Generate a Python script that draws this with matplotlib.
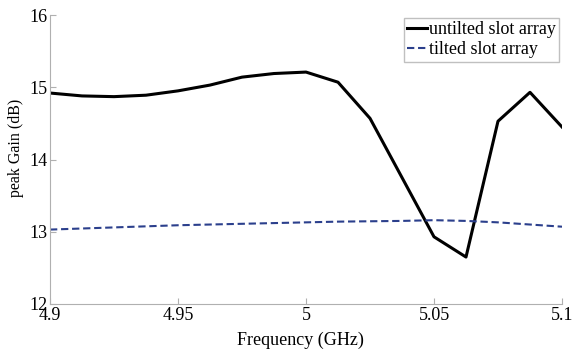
import matplotlib
matplotlib.use("Agg")
import matplotlib.pyplot as plt
import numpy as np

freq = [4.9, 4.9125, 4.925, 4.9375, 4.95, 4.9625, 4.975, 4.9875, 5.0,
        5.0125, 5.025, 5.0375, 5.05, 5.0625, 5.075, 5.0875, 5.1]
untilted = [14.92, 14.88, 14.87, 14.89, 14.95, 15.03, 15.14, 15.19, 15.21,
            15.07, 14.57, 13.75, 12.93, 12.65, 14.53, 14.93, 14.45]
tilted = [13.03, 13.045, 13.06, 13.075, 13.09, 13.10, 13.11, 13.12, 13.13,
          13.14, 13.145, 13.15, 13.16, 13.15, 13.13, 13.10, 13.07]
xticks = [4.9, 4.95, 5.0, 5.05, 5.1]
xticklabels = ["4.9", "4.95", "5", "5.05", "5.1"]
yticks = [12, 13, 14, 15, 16]

plt.rcParams['font.family'] = ['Liberation Serif', 'DejaVu Serif']
fig = plt.figure(figsize=(5.75, 3.5), dpi=100)
ax = fig.add_axes([50/575, 1-304/350, 512/575, 289/350])
ax.plot(freq, untilted, color='black', lw=2.2, label='untilted slot array')
ax.plot(freq, tilted, color='#2b3f8c', lw=1.5, ls=(0, (3.5, 1.8)), label='tilted slot array')
ax.set_xlim(4.9, 5.1)
ax.set_ylim(12, 16)
ax.set_xticks(xticks)
ax.set_xticklabels(xticklabels)
ax.set_yticks(yticks)
for s in ['top', 'right']:
    ax.spines[s].set_visible(False)
for s in ['left', 'bottom']:
    ax.spines[s].set_color('#b0b0b0')
ax.tick_params(direction='in', color='#b0b0b0', labelsize=13, length=4, pad=2)
ax.set_xlabel('Frequency (GHz)', fontsize=13)
ax.xaxis.set_label_coords(0.49, -0.095)
ax.set_ylabel('peak Gain (dB)', fontsize=11.5)
ax.yaxis.set_label_coords(-0.05, 0.54)
leg = ax.legend(loc='upper right', fontsize=13, handlelength=1.1, handletextpad=0.1,
                borderpad=0.2, labelspacing=0.15, fancybox=False, framealpha=1,
                borderaxespad=0.15)
leg.get_frame().set_edgecolor('#c0c0c0')
leg.get_frame().set_linewidth(1.0)
fig.savefig('out.png', dpi=100)
